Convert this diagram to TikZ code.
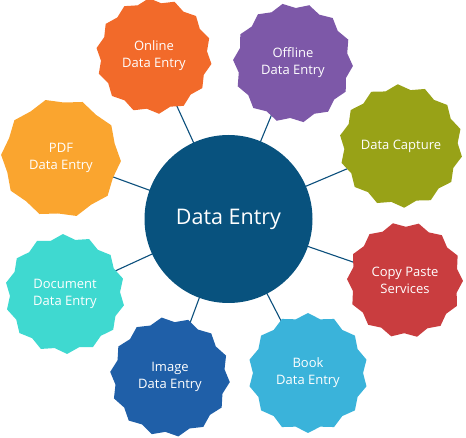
\documentclass[tikz,border=0pt]{standalone}
\usepackage{fontspec}
\setmainfont{Open Sans}
\usetikzlibrary{shapes.geometric}
\definecolor{cOnline}{HTML}{F26A2A}
\definecolor{cOffline}{HTML}{7D58A8}
\definecolor{cCapture}{HTML}{98A217}
\definecolor{cCopy}{HTML}{C93D3F}
\definecolor{cBook}{HTML}{3AB3DA}
\definecolor{cImage}{HTML}{1F5FA8}
\definecolor{cDoc}{HTML}{3FD9D0}
\definecolor{cPDF}{HTML}{FAA52F}
\definecolor{cCenter}{HTML}{08527E}
\definecolor{cLine}{HTML}{0B4F7C}
\tikzset{
  badge/.style={star, star points=14, star point ratio=1.09, minimum size=120pt,
    inner sep=0pt, fill=#1, draw=none, text=white, align=center,
    font=\fontsize{13}{17}\selectfont},
  hub/.style={circle, minimum size=168pt, fill=cCenter, text=white, inner sep=0pt,
    font=\fontsize{21.5}{24}\selectfont},
  link/.style={draw=cLine, line width=1.1pt}
}
\begin{document}
\begin{tikzpicture}[x=1pt,y=-1pt]
\useasboundingbox (0,0) rectangle (466,438);
\coordinate (cc) at (228.5,219);
\coordinate (p1) at (154,56);
\coordinate (p2) at (293,63);
\coordinate (p3) at (401,146);
\coordinate (p4) at (405,280);
\coordinate (p5) at (308,373);
\coordinate (p6) at (170,377);
\coordinate (p7) at (65,294);
\coordinate (p8) at (61,158);
\foreach \p in {p1,p2,p3,p4,p5,p6,p7,p8} \draw[link] (cc) -- (\p);
\node[badge=cOnline, minimum size=116pt, shape border rotate=5] (online) at (p1) {Online\\Data Entry};
\node[badge=cOffline, shape border rotate=10] (offline) at (p2) {Offline\\Data Entry};
\node[badge=cCapture, minimum size=121pt, shape border rotate=3] (capture) at (p3) {Data Capture};
\node[badge=cCopy, minimum size=116pt, shape border rotate=12] (copy) at (p4) {Copy Paste\\Services};
\node[badge=cBook, shape border rotate=0] (book) at (p5) {Book\\Data Entry};
\node[badge=cImage, shape border rotate=8] (image) at (p6) {Image\\Data Entry};
\node[badge=cDoc, shape border rotate=2] (doc) at (p7) {Document\\Data Entry};
\node[badge=cPDF, star points=10, star point ratio=1.08, shape border rotate=15] (pdf) at (p8) {PDF\\Data Entry};
\node[hub] (hubnode) at (cc) {Data Entry};
\end{tikzpicture}
\end{document}
